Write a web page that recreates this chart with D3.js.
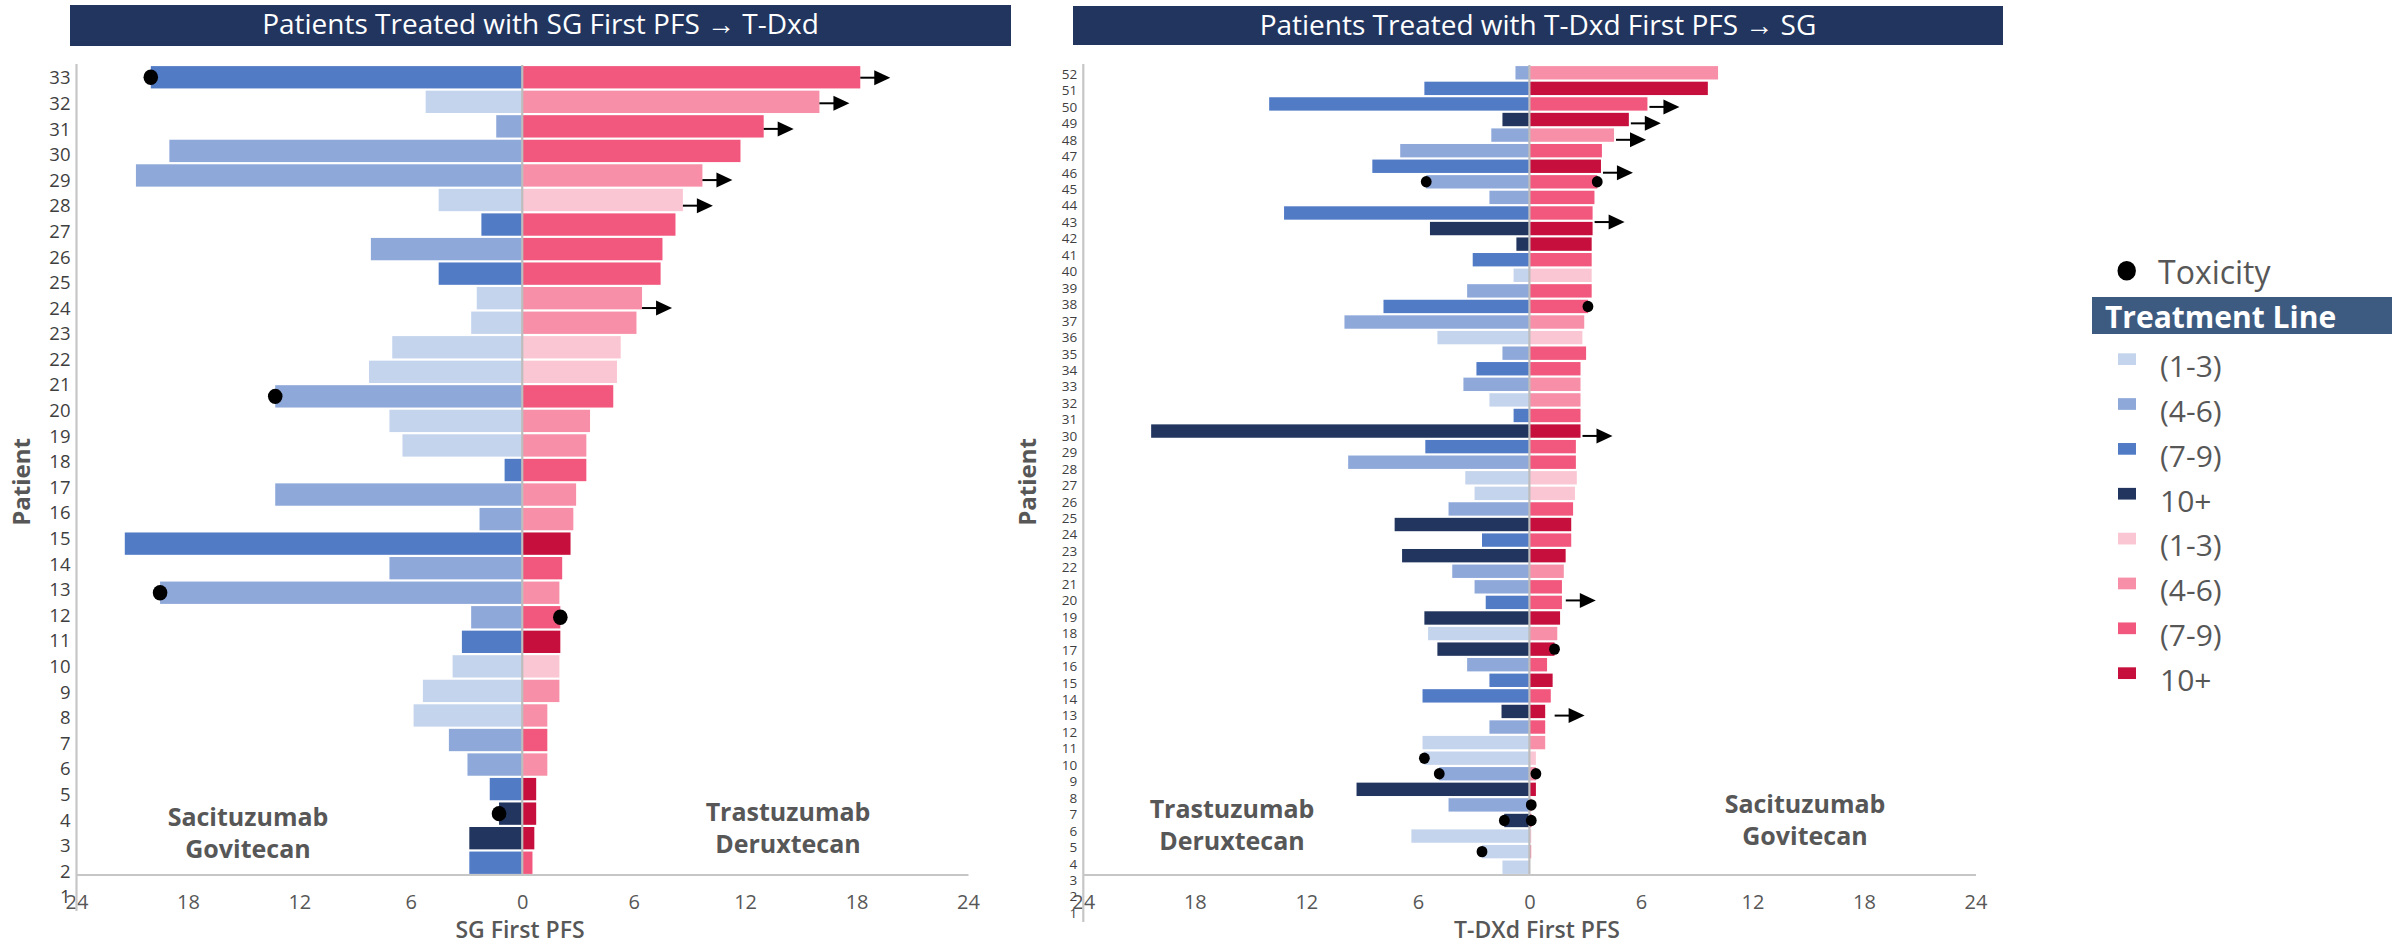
<!DOCTYPE html>
<html>
<head>
<meta charset="utf-8">
<script src="https://cdn.jsdelivr.net/npm/d3@7"></script>
<style>
  html, body { margin: 0; padding: 0; background: #ffffff; }
  svg { display: block; font-family: "Open Sans", "Noto Sans", sans-serif; }
</style>
</head>
<body>
<svg id="chart" width="2392" height="945"></svg>
<script>
// ---- Shared categories ----------------------------------------------------
const lineCategories = ["1-3", "4-6", "7-9", "10+"];
const legendLabels   = ["(1-3)", "(4-6)", "(7-9)", "10+"];
const blueShades     = ["#c5d4ed", "#8ea8da", "#527bc6", "#22355f"];
const pinkShades     = ["#fbc6d3", "#f78fa8", "#f2577d", "#c60f3c"];
const xTickValues    = [-24, -18, -12, -6, 0, 6, 12, 18, 24];

// ---- Cohort A: SG first, then T-DXd (patients listed 33 -> 1) --------------
const cohortAPatients = d3.range(33, 0, -1);
const cohortAFirstPFS = [20.0, 5.2, 1.4, 19.0, 20.8, 4.5, 2.2, 8.15, 4.5, 2.45, 2.75,
  7.0, 8.25, 13.3, 7.15, 6.45, 0.95, 13.3, 2.3, 21.4, 7.15, 19.5, 2.75, 3.25, 3.75,
  5.35, 5.85, 3.95, 2.95, 1.75, 1.25, 2.85, 2.85];
const cohortAFirstLine = ["7-9", "1-3", "4-6", "4-6", "4-6", "1-3", "7-9", "4-6", "7-9",
  "1-3", "1-3", "1-3", "1-3", "4-6", "1-3", "1-3", "7-9", "4-6", "4-6", "7-9", "4-6",
  "4-6", "4-6", "7-9", "1-3", "1-3", "1-3", "4-6", "4-6", "7-9", "10+", "10+", "7-9"];
const cohortASecondPFS = [18.2, 16.0, 13.0, 11.75, 9.7, 8.65, 8.25, 7.55, 7.45, 6.45,
  6.15, 5.3, 5.1, 4.9, 3.65, 3.45, 3.45, 2.9, 2.75, 2.6, 2.15, 2.0, 2.05, 2.05, 2.0,
  2.0, 1.35, 1.35, 1.35, 0.75, 0.75, 0.65, 0.55];
const cohortASecondLine = ["7-9", "4-6", "7-9", "7-9", "4-6", "1-3", "7-9", "7-9", "7-9",
  "4-6", "4-6", "1-3", "1-3", "7-9", "4-6", "4-6", "7-9", "4-6", "4-6", "10+", "7-9",
  "4-6", "7-9", "10+", "1-3", "4-6", "4-6", "7-9", "4-6", "10+", "10+", "10+", "7-9"];
const cohortAOngoing = [33, 32, 31, 29, 28, 24];
const cohortAToxicity = [
  { patient: 33, side: "first" }, { patient: 20, side: "first" },
  { patient: 12, side: "first" }, { patient: 11, side: "second" },
  { patient: 3, side: "first" }
];

// ---- Cohort B: T-DXd first, then SG (patients listed 52 -> 1) --------------
const cohortBPatients = d3.range(52, 0, -1);
const cohortBFirstPFS = [0.75, 5.65, 14.0, 1.45, 2.05, 6.95, 8.45, 5.55, 2.15, 13.2,
  5.35, 0.7, 3.05, 0.85, 3.35, 7.85, 9.95, 4.95, 1.45, 2.85, 3.55, 2.15, 0.85, 20.35,
  5.6, 9.75, 3.45, 2.95, 4.35, 7.25, 2.55, 6.85, 4.15, 2.95, 2.35, 5.65, 5.45, 4.95,
  3.35, 2.15, 5.75, 1.5, 2.15, 5.75, 5.65, 4.85, 9.3, 4.35, 1.35, 6.35, 2.55, 1.45];
const cohortBFirstLine = ["4-6", "7-9", "7-9", "10+", "4-6", "4-6", "7-9", "4-6", "4-6",
  "7-9", "10+", "10+", "7-9", "1-3", "4-6", "7-9", "4-6", "1-3", "4-6", "7-9", "4-6",
  "1-3", "7-9", "10+", "7-9", "4-6", "1-3", "1-3", "4-6", "10+", "7-9", "10+", "4-6",
  "4-6", "7-9", "10+", "1-3", "10+", "4-6", "7-9", "7-9", "10+", "4-6", "1-3", "1-3",
  "4-6", "10+", "4-6", "10+", "1-3", "1-3", "1-3"];
const cohortBSecondPFS = [10.15, 9.6, 6.35, 5.35, 4.55, 3.9, 3.85, 3.65, 3.5, 3.4, 3.4,
  3.35, 3.35, 3.35, 3.35, 3.15, 2.95, 2.85, 3.05, 2.75, 2.75, 2.75, 2.75, 2.75, 2.5,
  2.5, 2.55, 2.45, 2.35, 2.25, 2.25, 1.95, 1.85, 1.75, 1.75, 1.65, 1.5, 1.35, 0.95,
  1.25, 1.15, 0.85, 0.85, 0.85, 0.35, 0.35, 0.35, 0.1, 0.1, 0.1, 0.1, 0];
const cohortBSecondLine = ["4-6", "10+", "7-9", "10+", "4-6", "7-9", "10+", "7-9", "7-9",
  "7-9", "10+", "10+", "7-9", "1-3", "7-9", "7-9", "4-6", "1-3", "7-9", "7-9", "4-6",
  "4-6", "7-9", "10+", "7-9", "7-9", "1-3", "1-3", "7-9", "10+", "7-9", "10+", "4-6",
  "7-9", "7-9", "10+", "4-6", "10+", "7-9", "10+", "7-9", "10+", "7-9", "4-6", "1-3",
  "4-6", "10+", "4-6", "10+", "1-3", "4-6", "4-6"];
const cohortBOngoing = [50, 49, 48, 46, 43, 30, 20, 13];
const cohortBToxicity = [
  { patient: 45, side: "first" }, { patient: 45, side: "second" },
  { patient: 37, side: "second" }, { patient: 15, side: "second" },
  { patient: 8, side: "first" }, { patient: 7, side: "first" },
  { patient: 7, side: "second" }, { patient: 5, side: "second" },
  { patient: 4, side: "first" }, { patient: 4, side: "second" },
  { patient: 2, side: "first" }
];

// ---- Drawing -------------------------------------------------------------
const svg = d3.select("#chart");
const blueScale = d3.scaleOrdinal(lineCategories, blueShades);
const pinkScale = d3.scaleOrdinal(lineCategories, pinkShades);
const axisGrey = "#c6c6c6";
const textGrey = "#575757";

function drawPanel(cfg) {
  const g = svg.append("g");
  const rows = cfg.patients.map((p, i) => ({
    patient: p,
    first: cfg.firstPFS[i], firstLine: cfg.firstLine[i],
    second: cfg.secondPFS[i], secondLine: cfg.secondLine[i]
  }));
  const byPatient = new Map(rows.map(r => [r.patient, r]));

  const x = d3.scaleLinear().domain([-24, 24]).range(cfg.xRange);
  const yBand = d3.scaleBand().domain(cfg.patients).range(cfg.bandRange).padding(0);
  const yLabel = d3.scalePoint().domain(cfg.patients).range(cfg.labelRange).padding(0);
  const gap = 2.2;
  const barH = yBand.bandwidth() - gap;
  const yMid = p => yBand(p) + yBand.bandwidth() / 2;

  // title banner
  g.append("rect")
    .attr("x", cfg.title.x).attr("y", cfg.title.y)
    .attr("width", cfg.title.w).attr("height", cfg.title.h)
    .attr("fill", "#22355f");
  g.append("text")
    .attr("x", cfg.title.x + cfg.title.w / 2).attr("y", cfg.title.y + 29)
    .attr("text-anchor", "middle").attr("fill", "#ffffff")
    .attr("font-size", 28).text(cfg.title.text);

  // first-treatment bars (left of zero)
  g.append("g").selectAll("rect").data(rows).join("rect")
    .attr("x", d => x(-d.first)).attr("width", d => x(0) - x(-d.first))
    .attr("y", d => yBand(d.patient) + gap / 2).attr("height", barH)
    .attr("fill", d => blueScale(d.firstLine));

  // second-treatment bars (right of zero)
  g.append("g").selectAll("rect").data(rows.filter(d => d.second > 0)).join("rect")
    .attr("x", x(0)).attr("width", d => x(d.second) - x(0))
    .attr("y", d => yBand(d.patient) + gap / 2).attr("height", barH)
    .attr("fill", d => pinkScale(d.secondLine));

  // zero line
  g.append("line")
    .attr("x1", x(0)).attr("x2", x(0))
    .attr("y1", cfg.bandRange[0]).attr("y2", cfg.axisY)
    .attr("stroke", "#bdbdbd").attr("stroke-width", 2.2);

  // x axis
  const xAxis = d3.axisBottom(x).tickValues(xTickValues)
    .tickFormat(d => Math.abs(d)).tickSize(0).tickPadding(0);
  const ax = g.append("g").attr("transform", `translate(0,${cfg.axisY})`).call(xAxis);
  ax.select(".domain").attr("stroke", axisGrey).attr("stroke-width", 2.2);
  ax.selectAll("text").attr("font-family", "Open Sans").attr("font-size", 20)
    .attr("fill", textGrey).attr("dy", null).attr("y", cfg.tickBaseline - cfg.axisY);

  // y axis line and patient labels
  g.append("line")
    .attr("x1", cfg.xRange[0]).attr("x2", cfg.xRange[0])
    .attr("y1", cfg.bandRange[0] - 1).attr("y2", cfg.yAxisEnd)
    .attr("stroke", axisGrey).attr("stroke-width", 2.2);
  g.append("g").selectAll("text").data(cfg.patients).join("text")
    .attr("x", cfg.xRange[0] - 6).attr("y", d => yLabel(d))
    .attr("dy", "0.36em").attr("text-anchor", "end")
    .attr("font-size", cfg.labelSize).attr("fill", "#3f3f3f")
    .text(d => d);

  // ongoing-treatment arrows
  const arrowG = g.append("g").selectAll("g").data(cfg.ongoing).join("g")
    .attr("transform", p => `translate(${x(byPatient.get(p).second) + cfg.arrowGap},${yLabel(p)})`);
  arrowG.append("line").attr("x1", 0).attr("x2", 15).attr("y1", 0).attr("y2", 0)
    .attr("stroke", "#000").attr("stroke-width", 2);
  arrowG.append("path").attr("d", "M14,-7.5L30,0L14,7.5Z").attr("fill", "#000");

  // toxicity markers at the bar ends
  g.append("g").selectAll("ellipse").data(cfg.toxicity).join("ellipse")
    .attr("cx", d => {
      const r = byPatient.get(d.patient);
      return d.side === "first" ? x(-r.first) : x(r.second);
    })
    .attr("cy", d => yMid(d.patient))
    .attr("rx", cfg.dotR).attr("ry", cfg.dotR * 1.06)
    .attr("fill", "#000");

  // axis titles
  g.append("text")
    .attr("x", cfg.xTitleX).attr("y", 938)
    .attr("text-anchor", "middle").attr("font-size", 23).attr("font-weight", 600)
    .attr("fill", textGrey).text(cfg.xTitle);
  g.append("text")
    .attr("transform", `translate(${cfg.yTitleX},482) rotate(-90)`)
    .attr("text-anchor", "middle").attr("dy", "0.35em")
    .attr("font-size", 24).attr("font-weight", 700)
    .attr("fill", textGrey).text("Patient");

  // drug name annotations
  cfg.notes.forEach(n => {
    const t = g.append("text").attr("text-anchor", "middle")
      .attr("font-size", 25).attr("font-weight", 700).attr("fill", textGrey);
    n.lines.forEach((line, i) => {
      t.append("tspan").attr("x", n.x).attr("y", n.y + i * 32).text(line);
    });
  });
}

drawPanel({
  patients: cohortAPatients,
  firstPFS: cohortAFirstPFS, firstLine: cohortAFirstLine,
  secondPFS: cohortASecondPFS, secondLine: cohortASecondLine,
  ongoing: cohortAOngoing, toxicity: cohortAToxicity,
  xRange: [76.5, 968], bandRange: [65, 875], labelRange: [77.7, 896.7],
  axisY: 874.5, tickBaseline: 909, yAxisEnd: 911, labelSize: 18.5,
  arrowGap: 0, dotR: 7.3,
  title: { x: 70, y: 5, w: 941, h: 41, text: "Patients Treated with SG First PFS \u2192 T-Dxd" },
  xTitle: "SG First PFS", xTitleX: 520, yTitleX: 22,
  notes: [
    { x: 248, y: 826, lines: ["Sacituzumab", "Govitecan"] },
    { x: 788, y: 821, lines: ["Trastuzumab", "Deruxtecan"] }
  ]
});

drawPanel({
  patients: cohortBPatients,
  firstPFS: cohortBFirstPFS, firstLine: cohortBFirstLine,
  secondPFS: cohortBSecondPFS, secondLine: cohortBSecondLine,
  ongoing: cohortBOngoing, toxicity: cohortBToxicity,
  xRange: [1083.3, 1975.5], bandRange: [65, 875], labelRange: [74, 913],
  axisY: 874.5, tickBaseline: 909, yAxisEnd: 922, labelSize: 13.5,
  arrowGap: 2, dotR: 5.4,
  title: { x: 1073, y: 6, w: 930, h: 39, text: "Patients Treated with T-Dxd First PFS \u2192 SG" },
  xTitle: "T-DXd First PFS", xTitleX: 1537, yTitleX: 1028,
  notes: [
    { x: 1232, y: 818, lines: ["Trastuzumab", "Deruxtecan"] },
    { x: 1805, y: 813, lines: ["Sacituzumab", "Govitecan"] }
  ]
});

// ---- Legend --------------------------------------------------------------
const legend = svg.append("g");
legend.append("ellipse").attr("cx", 2126.7).attr("cy", 270.7)
  .attr("rx", 9.2).attr("ry", 9.8).attr("fill", "#000");
legend.append("text").attr("x", 2158).attr("y", 284)
  .attr("font-size", 32).attr("fill", textGrey).text("Toxicity");
legend.append("rect").attr("x", 2092).attr("y", 297).attr("width", 300).attr("height", 37)
  .attr("fill", "#3d5a80");
legend.append("text").attr("x", 2105).attr("y", 328)
  .attr("font-size", 30).attr("font-weight", 700).attr("fill", "#ffffff")
  .text("Treatment Line");

const legendItems = [
  ...lineCategories.map((c, i) => ({ color: blueScale(c), label: legendLabels[i] })),
  ...lineCategories.map((c, i) => ({ color: pinkScale(c), label: legendLabels[i] }))
];
const li = legend.selectAll("g.item").data(legendItems).join("g")
  .attr("class", "item")
  .attr("transform", (d, i) => `translate(0,${i * 44.86})`);
li.append("rect").attr("x", 2118).attr("y", 353.3).attr("width", 18).attr("height", 11.7)
  .attr("fill", d => d.color);
li.append("text").attr("x", 2160).attr("y", 377)
  .attr("font-size", 30).attr("fill", textGrey).text(d => d.label);
</script>
</body>
</html>
